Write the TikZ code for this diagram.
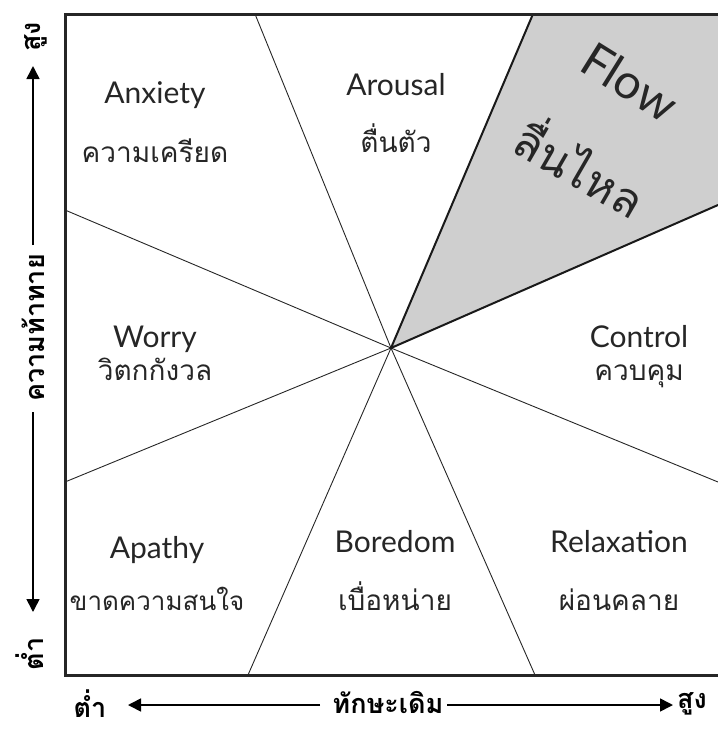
\documentclass[tikz,border=0pt]{standalone}
\usepackage{fontspec}
\setmainfont{Lato}
\newfontfamily\thai[Script=Thai]{Loma}
\usetikzlibrary{arrows.meta}
\begin{document}
\begin{tikzpicture}[x=1pt,y=-1pt,
  lab/.style={font=\fontsize{30}{32}\selectfont, text=black!85, inner sep=0, anchor=base},
  thlab/.style={font=\thai\fontsize{28}{30}\selectfont, text=black!85, inner sep=0, anchor=base},
  ray/.style={line width=0.9pt, draw=black!85},
  flowedge/.style={line width=2pt, draw=black!90},
  axisline/.style={line width=1.6pt, draw=black},
  tip/.style={-{Triangle[length=13pt,width=13pt]}},
  axlab/.style={font=\thai\bfseries\fontsize{27}{29}\selectfont, inner sep=0}]
\useasboundingbox (0,0) rectangle (718,729);
% centre and edge points
\coordinate (c) at (391,348);
\coordinate (t1) at (255,14);
\coordinate (t2) at (533,14);
\coordinate (tr) at (718,14);
\coordinate (r1) at (718,205);
\coordinate (r2) at (718,482);
\coordinate (b1) at (535,675);
\coordinate (b2) at (248,675);
\coordinate (l1) at (65,482);
\coordinate (l2) at (65,210);
% flow region
\fill[black!19] (c) -- (t2) -- (tr) -- (r1) -- cycle;
% rays
\draw[ray] (c) -- (t1);
\draw[ray] (c) -- (r2);
\draw[ray] (c) -- (b1);
\draw[ray] (c) -- (b2);
\draw[ray] (c) -- (l1);
\draw[ray] (c) -- (l2);
\draw[flowedge, line join=round] (t2) -- (c) -- (r1);
% frame
\draw[line width=3pt, draw=black!85] (720,14) -- (65,14) -- (65,675) -- (720,675);
% labels
\node[lab] (anx) at (155,103) {Anxiety};
\node[thlab] (anxt) at (155,162) {ความเครียด};
\node[lab] (aro) at (396,95) {Arousal};
\node[thlab] (arot) at (396,152) {ตื่นตัว};
\node[lab] (wor) at (155,347) {Worry};
\node[thlab] (wort) at (155,380) {วิตกกังวล};
\node[lab] (con) at (639,347) {Control};
\node[thlab] (cont) at (639,380) {ควบคุม};
\node[lab] (apa) at (157,558) {Apathy};
\node[thlab, font=\thai\fontsize{26}{28}\selectfont] (apat) at (157,610) {ขาดความสนใจ};
\node[lab] (bor) at (395,552) {Boredom};
\node[thlab] (bort) at (395,610) {เบื่อหน่าย};
\node[lab] (rel) at (619,552) {Relaxation};
\node[thlab] (relt) at (619,610) {ผ่อนคลาย};
\node[font=\fontsize{48}{50}\selectfont, text=black!85, rotate=-32, inner sep=0] (flow) at (630,82) {Flow};
\node[font=\thai\fontsize{46}{48}\selectfont, text=black!85, rotate=-30, inner sep=0] (flowt) at (582,165) {ลื่นไหล};
% vertical axis
\node[axlab, rotate=90] (vhi) at (36,37) {สูง};
\node[axlab, rotate=90] (vlo) at (30,654) {ต่ำ};
\node[axlab, rotate=90] (vlab) at (33,328) {ความท้าทาย};
\coordinate (vtop) at (33,66);
\coordinate (vbot) at (33,612);
\draw[axisline, tip] (33,245) -- (vtop);
\draw[axisline, tip] (33,412) -- (vbot);
% horizontal axis
\node[axlab] (hlo) at (90,704) {ต่ำ};
\node[axlab] (hlab) at (388,702) {ทักษะเดิม};
\node[axlab] (hhi) at (692,704) {สูง};
\coordinate (hleft) at (128,705);
\coordinate (hright) at (673,705);
\draw[axisline, tip] (320,705) -- (hleft);
\draw[axisline, tip] (447,705) -- (hright);
\end{tikzpicture}
\end{document}
